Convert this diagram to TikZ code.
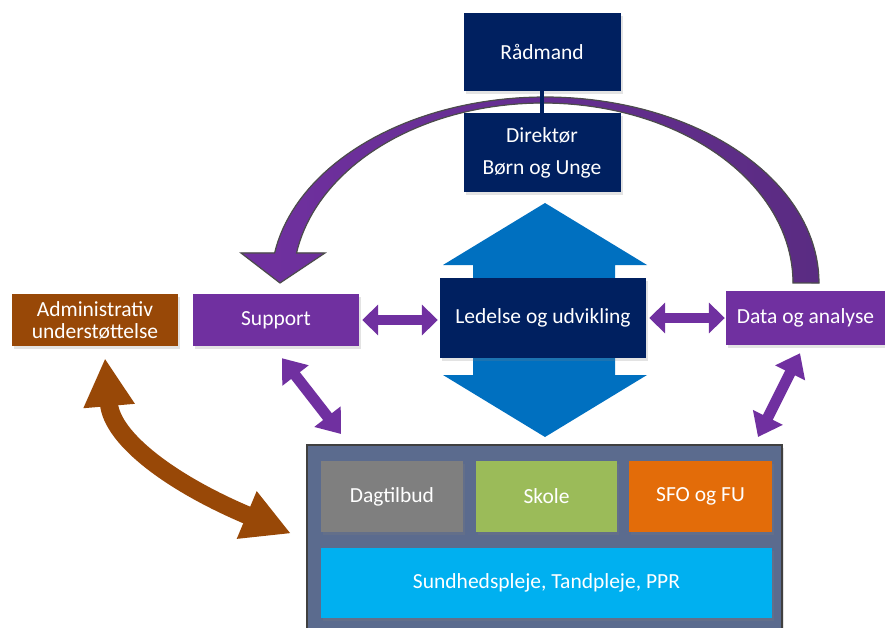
\documentclass[tikz,border=0pt]{standalone}
\usepackage{fontspec}
\setmainfont{Carlito}
\usetikzlibrary{arrows.meta,calc,shadows}
\definecolor{navy}{HTML}{002060}
\definecolor{purp}{HTML}{7030A0}
\definecolor{purpdark}{HTML}{5A2C82}
\definecolor{brownc}{HTML}{984807}
\definecolor{bluec}{HTML}{0070C0}
\definecolor{grayc}{HTML}{7F7F7F}
\definecolor{greenc}{HTML}{9BBB59}
\definecolor{orangec}{HTML}{E36C09}
\definecolor{cyanc}{HTML}{00B0F0}
\definecolor{contc}{HTML}{5B6B8E}
\begin{document}
\begin{tikzpicture}[x=1pt,y=-1pt,
  box/.style={draw=none, inner sep=0pt, text=white, align=center,
    font=\fontsize{21.5}{26}\selectfont,
    drop shadow={shadow xshift=2pt,shadow yshift=-3pt,opacity=0.22}},
  purplearrow/.style={draw=purp, line width=10pt,
    {Triangle[length=16pt,width=30pt]}-{Triangle[length=16pt,width=30pt]}},
  diagarrow/.style={draw=purp, line width=11pt,
    {Triangle[length=22pt,width=32pt]}-{Triangle[length=22pt,width=32pt]}},
  brownarrow/.style={draw=brownc, line width=18pt,
    {Triangle[length=48pt,width=48pt]}-{Triangle[length=48pt,width=48pt]}}
]
\useasboundingbox (0,0) rectangle (885,628);
\fill[white] (0,0) rectangle (885,628);

% top curved arrow
\filldraw[left color=purp, right color=purpdark, draw=gray!60!black, line width=1.2pt]
  plot[domain=0:170.7,samples=90] ({545+274*cos(\x)},{283-186*sin(\x)})
  -- (241,253) -- (280,283) -- (325,253)
  -- plot[domain=170.4:0,samples=90] ({543+250*cos(\x)},{283-180*sin(\x)})
  -- cycle;

% nodes
\node[box, fill=navy, minimum width=157pt, minimum height=78pt] (rad) at (542,52) {Rådmand};
\node[box, fill=navy, minimum width=157pt, minimum height=79pt,
  font=\fontsize{21.5}{32}\selectfont] (dir) at (542,152.5) {Direktør\\Børn og Unge};
\draw[navy, line width=4pt] (rad.south) -- (dir.north);

% big blue double arrow
\fill[bluec] (545,203) -- (647,265) -- (615,265) -- (615,375) -- (647,375) -- (545,437)
  -- (443,375) -- (473,375) -- (473,265) -- (443,265) -- cycle;

\node[box, fill=brownc, minimum width=166pt, minimum height=52pt,
  font=\fontsize{21.5}{22}\selectfont] (admin) at (95,320) {Administrativ\\understøttelse};
\node[box, fill=purp, minimum width=166pt, minimum height=52pt] (support) at (276,320) {Support};
\node[box, fill=navy, minimum width=206pt, minimum height=80pt] (led) at (543,318) {Ledelse og udvikling};
\node[box, fill=purp, minimum width=159pt, minimum height=54pt] (data) at (805.5,318) {Data og analyse};

% container
\node[box, fill=contc, draw=gray!50!black, line width=2pt, minimum width=475pt, minimum height=195pt] (cont) at (544.5,542.5) {};
\node[box, fill=grayc, minimum width=142pt, minimum height=71pt] (dag) at (392,496.5) {Dagtilbud};
\node[box, fill=greenc, minimum width=141pt, minimum height=71pt] (skole) at (546.5,496.5) {Skole};
\node[box, fill=orangec, minimum width=143pt, minimum height=71pt] (sfo) at (700.5,496.5) {SFO og FU};
\node[box, fill=cyanc, minimum width=451pt, minimum height=70pt] (sund) at (546.5,583) {Sundhedspleje, Tandpleje, PPR};

% purple double arrows
\draw[purplearrow] ([xshift=3pt]support.east) -- ([xshift=-2pt]support.east -| led.west);
\draw[purplearrow] ([xshift=3pt]led.east) -- ([xshift=-1pt]led.east -| data.west);
\draw[diagarrow] ($(support.south)+(6,12)$) -- ($(cont.north west)+(35,-10)$);
\draw[diagarrow] ($(data.south)+(-5.5,8)$) -- ($(cont.north east)+(-25,-7)$);

% brown curved double arrow
\coordinate (b1) at ($(admin.south)+(10,12)$);
\coordinate (b2) at ($(cont.west)+(-15,-9)$);
\draw[brownarrow] (b1) .. controls (112,440) and (175,485) .. (b2);
\end{tikzpicture}
\end{document}
